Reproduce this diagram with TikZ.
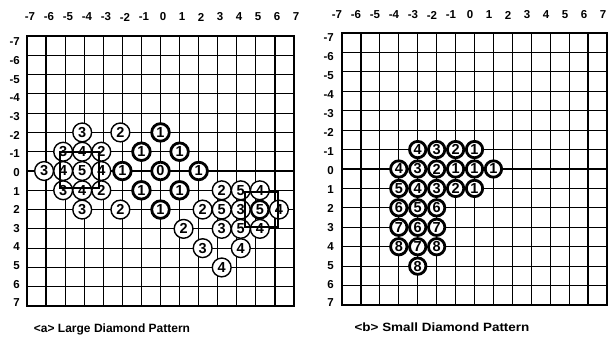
\documentclass[tikz,border=0pt]{standalone}
\usepackage{graphicx}
\usepackage{fontspec}
\setmainfont{Liberation Sans}
\tikzset{
  gridline/.style={line width=1.2pt, black},
  frameline/.style={line width=1.6pt, black},
  thinc/.style={circle, draw, fill=white, line width=1.4pt, minimum size=18.8pt, inner sep=0pt,
    font=\fontsize{14.5}{14.5}\selectfont\bfseries},
  thickc/.style={thinc, line width=2.8pt, minimum size=17.6pt},
  smallc/.style={thinc, line width=2.8pt, minimum size=16.4pt},
  axl/.style={inner sep=0pt, font=\fontsize{11.5}{11.5}\selectfont\bfseries},
  capt/.style={inner sep=0pt, font=\fontsize{12}{12}\selectfont\bfseries},
  mark square/.style={draw, line width=2pt, inner sep=0pt, fill=none}
}
\begin{document}
\begin{tikzpicture}[x=1pt,y=-1pt]
\useasboundingbox (0,0) rectangle (608,340);
\fill[white] (0,0) rectangle (608,340);

% ---------- left grid ----------
\begin{scope}[shift={(160.5pt,-171pt)}, x=19.07pt, y=-19.29pt]
  \foreach \i in {-6,...,6} {
    \draw[gridline] (\i,-7) -- (\i,7);
    \draw[gridline] (-7,\i) -- (7,\i);
  }
  \draw[frameline] (-7,-7) rectangle (7,7);
  % step 1 (thick)
  \foreach \c/\r/\t [count=\n] in {0/0/0, 0/-2/1, -1/-1/1, 1/-1/1, -2/0/1, 2/0/1, -1/1/1, 1/1/1, 0/2/1}
    \node[thickc] (a\n) at (\c,\r) {\t};
  % left cluster
  \foreach \c/\r/\t [count=\n] in {-2/-2/2, -3/-1/2, -3/1/2, -2/2/2,
      -4/-2/3, -5/-1/3, -6/0/3, -5/1/3, -4/2/3,
      -4/-1/4, -5/0/4, -3/0/4, -4/1/4, -4/0/5}
    \node[thinc, xshift=-2pt] (b\n) at (\c,\r) {\t};
  % right cluster
  \foreach \c/\r/\t [count=\n] in {3/1/2, 2/2/2, 1/3/2,
      4/2/3, 3/3/3, 2/4/3,
      5/1/4, 6/2/4, 5/3/4, 4/4/4, 3/5/4,
      4/1/5, 3/2/5, 4/3/5}
    \node[thinc, xshift=4pt] (c\n) at (\c,\r) {\t};
  \node[thinc, line width=2.4pt, minimum size=17.6pt, xshift=4pt] (cfin) at (5,2) {5};
\end{scope}
\node[mark square, minimum width=39pt, minimum height=36pt] (sqa) at (79.5,170) {};
\node[mark square, minimum width=33pt, minimum height=35pt] (sqb) at (261.5,209.5) {};

% left axis labels
\foreach \c [count=\k] in {-7,...,7}
  \node[axl] (lx\k) at ({30+(\c+7)*19}, 17) {\c};
\foreach \r [count=\k] in {-7,...,7}
  \node[axl, anchor=east] (ly\k) at (20, {42+(\r+7)*18.64}) {\r};

% ---------- right grid ----------
\begin{scope}[shift={(474.5pt,-169pt)}, x=18.93pt, y=-19.43pt]
  \foreach \i in {-6,...,6} {
    \draw[gridline] (\i,-7) -- (\i,7);
    \draw[gridline] (-7,\i) -- (7,\i);
  }
  \draw[frameline] (-7,-7) rectangle (7,7);
  \foreach \c/\r/\t [count=\n] in {0/-1/1, -1/0/1, 0/0/1, 1/0/1, 0/1/1,
      -1/-1/2, -2/0/2, -1/1/2,
      -2/-1/3, -3/0/3, -2/1/3,
      -3/-1/4, -4/0/4, -3/1/4,
      -4/1/5, -3/2/5,
      -4/2/6, -2/2/6, -3/3/6,
      -4/3/7, -2/3/7, -3/4/7,
      -4/4/8, -2/4/8, -3/5/8}
    \node[smallc] (d\n) at (\c,\r) {\t};
\end{scope}

% right axis labels
\foreach \c [count=\k] in {-7,...,7}
  \node[axl] (rx\k) at ({337+(\c+7)*19}, 15) {\c};
\foreach \r [count=\k] in {-7,...,7}
  \node[axl, anchor=east] (ry\k) at (334, {38+(\r+7)*18.93}) {\r};

% captions
\node[capt] (capa) at (112,329) {<a> Large Diamond Pattern};
\node[capt] (capb) at (442,327) {\scalebox{1.12}[1]{<b> Small Diamond Pattern}};
\end{tikzpicture}
\end{document}
